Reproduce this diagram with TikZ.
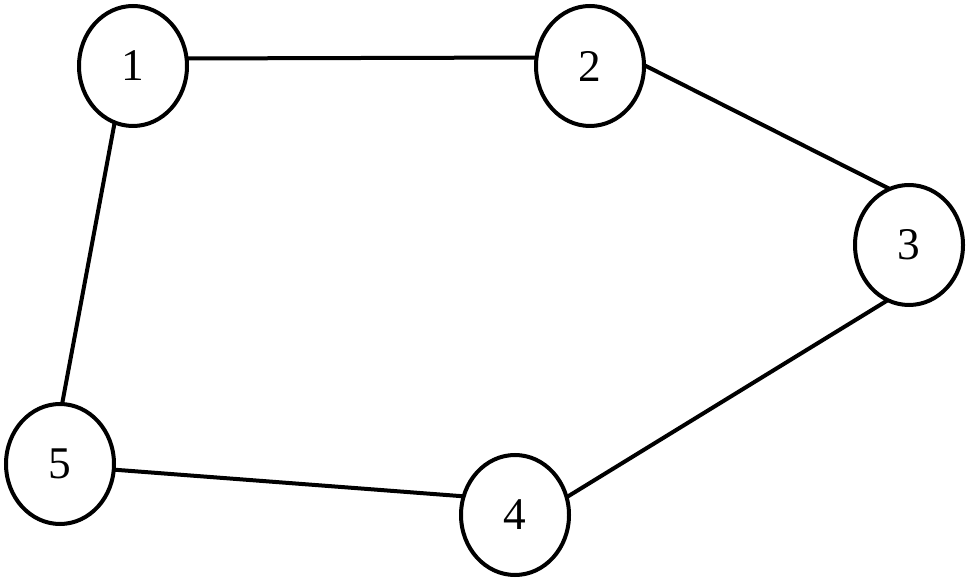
\documentclass[tikz,border=0pt]{standalone}
\usepackage{fontspec}
\setmainfont{Liberation Serif}
\usetikzlibrary{shapes.geometric}
\begin{document}
\begin{tikzpicture}[x=0.75pt,y=-0.75pt,
  vertex/.style={draw=black,line width=3pt,ellipse,minimum width=81pt,minimum height=90pt,inner sep=0pt,outer sep=0pt,font=\fontsize{34}{40}\selectfont},
  edge/.style={draw=black,line width=3pt}]
\useasboundingbox (0,0) rectangle (967,580);
\node[vertex] (n1) at (133,66) {1};
\node[vertex] (n2) at (590,66) {2};
\node[vertex] (n3) at (909,245) {3};
\node[vertex] (n4) at (515,515) {4};
\node[vertex] (n5) at (60,464) {5};
\draw[edge] (n1.8) -- (n2.171);
\draw[edge] (n2.1) -- (n3.109);
\draw[edge] (n3.249) -- (n4.19);
\draw[edge] (n4.160) -- (n5.354);
\draw[edge] (n1.252) -- (n5.88);
\end{tikzpicture}
\end{document}
